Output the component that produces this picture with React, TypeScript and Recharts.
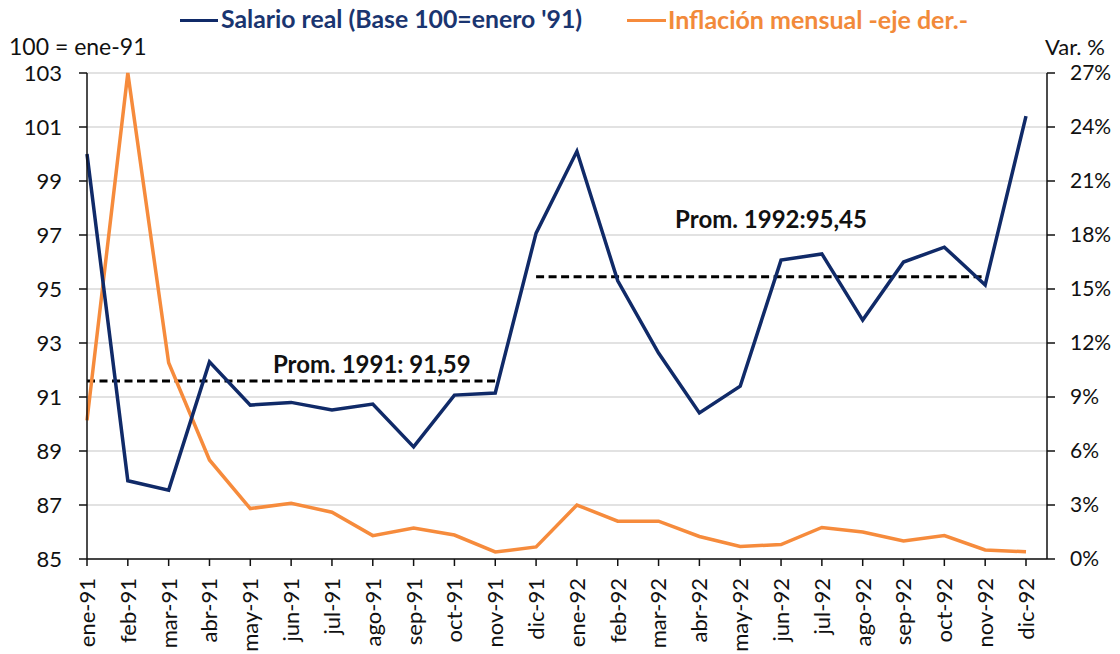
import React from "react";
import { LineChart, Line, XAxis, YAxis, CartesianGrid, Legend, LabelList } from "recharts";

const months = [
  "ene-91", "feb-91", "mar-91", "abr-91", "may-91", "jun-91", "jul-91", "ago-91", "sep-91", "oct-91", "nov-91", "dic-91",
  "ene-92", "feb-92", "mar-92", "abr-92", "may-92", "jun-92", "jul-92", "ago-92", "sep-92", "oct-92", "nov-92", "dic-92",
];
const salarioReal = [
  100.0, 87.9, 87.55, 92.3, 90.7, 90.8, 90.52, 90.74, 89.15, 91.07, 91.15, 97.07,
  100.1, 95.3, 92.63, 90.41, 91.4, 96.07, 96.3, 93.85, 96.0, 96.55, 95.15, 101.4,
];
const inflacion = [
  7.7, 27.0, 10.9, 5.5, 2.8, 3.1, 2.6, 1.3, 1.72, 1.33, 0.39, 0.67,
  3.0, 2.1, 2.1, 1.25, 0.7, 0.8, 1.75, 1.5, 1.0, 1.3, 0.5, 0.4,
];
// promedios anuales (el gráfico original los corre un mes: ene-nov 91 y dic-91 a nov-92)
const prom1991 = 91.59;
const prom1992 = 95.45;
const prom1991Label = "Prom. 1991: 91,59";
const prom1992Label = "Prom. 1992:95,45";
const leftTicks = [85, 87, 89, 91, 93, 95, 97, 99, 101, 103];
const rightTicks = [0, 3, 6, 9, 12, 15, 18, 21, 24, 27];

const data = months.map((m, i) => ({
  m,
  salario: salarioReal[i],
  inflacion: inflacion[i],
  avg91: i <= 10 ? prom1991 : null,
  avg92: i >= 11 && i <= 22 ? prom1992 : null,
}));

const NAVY = "#102a68";
const ORANGE = "#f68b3c";
const FONT = "Lato, 'Open Sans', sans-serif";

const XTick = (props: any) => {
  const { x, y, payload } = props;
  return (
    <g transform={`translate(${x},${y})`}>
      <text transform="rotate(-90)" x={-10} y={0} dy="0.36em" textAnchor="end" fontSize={22} fill="#111" fontFamily={FONT}>
        {payload.value}
      </text>
    </g>
  );
};

const avgLabel = (text: string, at: number, dx: number, dy: number) => (props: any) => {
  if (props.index !== at) return null;
  return (
    <text x={props.x + dx} y={props.y + dy} textAnchor="middle" fontSize={24} fontWeight={700} fill="#111" fontFamily={FONT}>
      {text}
    </text>
  );
};

// leyenda y títulos de ejes arriba; alto 0 para que no empuje el área del gráfico
const TopLegend = () => (
  <div style={{ position: "relative", width: 1112, height: 0, fontFamily: FONT }}>
    <div style={{ position: "absolute", left: 172, top: 11, width: 38, height: 3, background: NAVY }} />
    <span style={{ position: "absolute", left: 213, top: -4, fontSize: 24.8, fontWeight: 700, color: "#1a3570", whiteSpace: "nowrap" }}>
      Salario real (Base 100=enero '91)
    </span>
    <div style={{ position: "absolute", left: 619, top: 11, width: 39, height: 3, background: ORANGE }} />
    <span style={{ position: "absolute", left: 660, top: -4, fontSize: 25, fontWeight: 700, color: "#f28a3a", whiteSpace: "nowrap" }}>
      Inflación mensual -eje der.-
    </span>
    <span style={{ position: "absolute", left: 1, top: 24, fontSize: 23, color: "#111", whiteSpace: "nowrap" }}>100 = ene-91</span>
    <span style={{ position: "absolute", left: 1037, top: 25, fontSize: 22, color: "#111", whiteSpace: "nowrap" }}>Var. %</span>
  </div>
);

export default function App() {
  return (
    <div style={{ width: 1112, height: 646, background: "#fff" }}>
      <LineChart width={1112} height={646} data={data} margin={{ top: 65, right: 0, left: 0, bottom: 0 }}>
        <CartesianGrid yAxisId="left" vertical={false} stroke="#d9d9d9" strokeWidth={1.5} />
        <XAxis
          dataKey="m"
          interval={0}
          tick={<XTick />}
          tickSize={7}
          height={95}
          stroke="#111"
          strokeWidth={1.5}
          padding={{ left: 0, right: 21 }}
        />
        <YAxis
          yAxisId="left"
          domain={[85, 103]}
          ticks={leftTicks}
          width={79}
          tickSize={8}
          tickMargin={17}
          stroke="#111"
          strokeWidth={1.5}
          tick={{ fontSize: 22, fill: "#111", fontFamily: FONT }}
        />
        <YAxis
          yAxisId="right"
          orientation="right"
          domain={[0, 27]}
          ticks={rightTicks}
          width={73}
          tickSize={8}
          tickMargin={15}
          stroke="#111"
          strokeWidth={1.5}
          tickFormatter={(v: number) => `${v}%`}
          tick={{ fontSize: 21, fill: "#111", fontFamily: FONT, textAnchor: "start" }}
        />
        <Legend verticalAlign="top" wrapperStyle={{ top: 0, left: 0, height: 0 }} content={() => <TopLegend />} />
        <Line yAxisId="left" type="linear" dataKey="avg91" stroke="#000" strokeWidth={3} strokeDasharray="8 4.5" dot={false} isAnimationActive={false} connectNulls={false} legendType="none">
          <LabelList dataKey="avg91" content={avgLabel(prom1991Label, 7, -1, -8)} />
        </Line>
        <Line yAxisId="left" type="linear" dataKey="avg92" stroke="#000" strokeWidth={3} strokeDasharray="8 4.5" dot={false} isAnimationActive={false} connectNulls={false} legendType="none">
          <LabelList dataKey="avg92" content={avgLabel(prom1992Label, 17, -10, -49)} />
        </Line>
        <Line yAxisId="right" type="linear" dataKey="inflacion" stroke={ORANGE} strokeWidth={3.5} dot={false} isAnimationActive={false} />
        <Line yAxisId="left" type="linear" dataKey="salario" stroke={NAVY} strokeWidth={3.5} dot={false} isAnimationActive={false} />
      </LineChart>
    </div>
  );
}
